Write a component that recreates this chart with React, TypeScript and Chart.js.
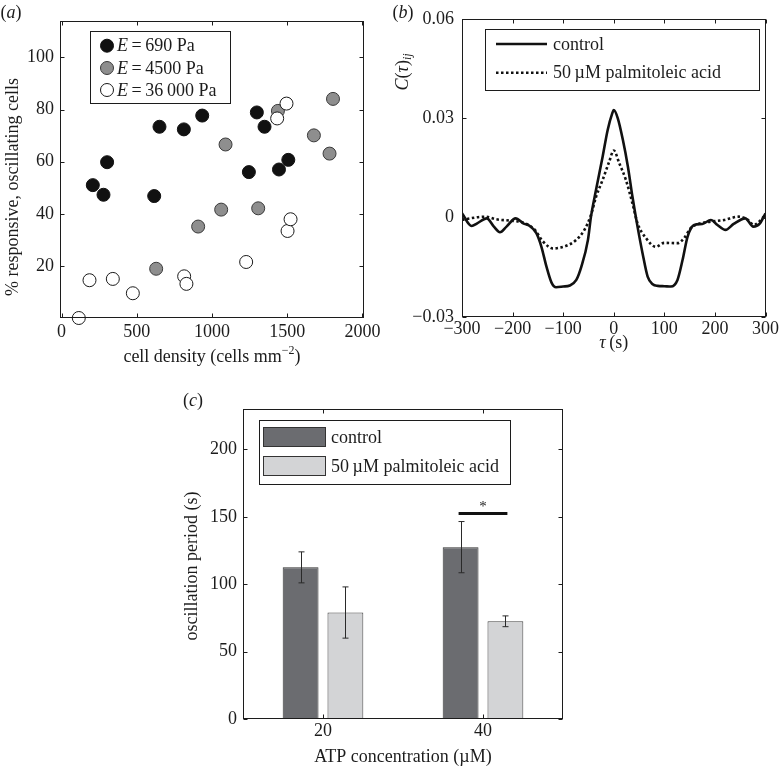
import React, { useEffect, useRef } from 'react';
import { Chart, registerables } from 'chart.js';
Chart.register(...registerables);

const W = 780;
const H = 767;
const SERIF = '"Liberation Serif", "Times New Roman", Times, serif';
const INK = '#1c1c1c';
const FS = 18;

// ---------- Panel (a) data ----------
const xTicksA = [0, 500, 1000, 1500, 2000];
const yTicksA = [20, 40, 60, 80, 100];
const density690 = [208, 279, 303, 616, 651, 813, 935, 1245, 1298, 1349, 1445, 1507];
const pct690 = [51.0, 47.3, 59.8, 46.8, 73.4, 72.4, 77.7, 56.0, 78.9, 73.4, 57.0, 60.7];
const density4500 = [629, 908, 1061, 1090, 1307, 1438, 1677, 1781, 1804];
const pct4500 = [18.9, 35.1, 41.6, 66.6, 42.1, 79.5, 70.1, 63.1, 84.1];
const density36000 = [115, 186, 341, 474, 815, 830, 1227, 1433, 1495, 1502, 1522];
const pct36000 = [0.0, 14.5, 15.0, 9.5, 16.0, 13.1, 21.5, 76.6, 82.3, 33.4, 37.9];
const labelsA = ['690 Pa', '4500 Pa', '36\u2009000 Pa'];

// ---------- Panel (b) data ----------
const xTicksB = [-300, -200, -100, 0, 100, 200, 300];
const yTicksB = [-0.03, 0, 0.03, 0.06];
const controlTau = [-300, -281, -270, -251, -237, -225, -212, -194, -179, -166, -153, -143, -133, -123, -114, -100, -87, -74, -64, -51, -45, -35, -22, -12, -3, 0, 8, 18, 28, 37, 47, 57, 67, 77, 87, 100, 113, 126, 136, 146, 159, 175, 192, 205, 221, 237, 260, 276, 289, 300];
const controlC = [0.0013, -0.0025, -0.0017, -0.0002, -0.0027, -0.0044, -0.0027, -0.0002, -0.0017, -0.0025, -0.0047, -0.0088, -0.0148, -0.0196, -0.021, -0.0208, -0.0205, -0.0188, -0.0148, -0.0067, 0.0003, 0.0084, 0.0184, 0.0265, 0.0315, 0.0325, 0.030, 0.0235, 0.0154, 0.0063, -0.0027, -0.0108, -0.0178, -0.0201, -0.0206, -0.0207, -0.0208, -0.0188, -0.0128, -0.0057, -0.0022, -0.0019, -0.0007, -0.0022, -0.0037, -0.0019, -0.0002, -0.0027, -0.0017, 0.0013];
const palmTau = [-300, -284, -255, -232, -206, -179, -156, -140, -120, -94, -74, -58, -45, -35, -22, -9, 0, 11, 24, 37, 47, 64, 83, 100, 126, 139, 152, 172, 192, 218, 247, 264, 277, 300];
const palmC = [-0.0007, -0.0002, 0.0003, -0.0005, -0.0009, -0.0015, -0.0037, -0.0072, -0.0093, -0.0085, -0.0067, -0.0037, 0.0008, 0.0063, 0.0114, 0.0169, 0.0203, 0.0164, 0.0114, 0.0043, -0.0017, -0.0062, -0.0088, -0.0076, -0.0077, -0.0062, -0.0032, -0.0017, -0.0012, -0.0007, 0.0003, -0.0005, -0.0022, 0.0008];

// ---------- Panel (c) data ----------
const atpCats = ['20', '40'];
const yTicksC = [0, 50, 100, 150, 200];
const controlPeriod = [112.5, 127.5];
const controlErr = [11.5, 19];
const palmPeriod = [79, 72.5];
const palmErr = [19, 4];
const sigCat = 1;
const sigY = 152.5;
const seriesNames = ['control', '50\u2009\u00b5M palmitoleic acid'];

// ---------- helpers ----------
type Seg = { t: string; it?: boolean; sz?: number; dy?: number };
const fnt = (s: Seg, base: number) => `${s.it ? 'italic ' : ''}${s.sz || base}px ${SERIF}`;

function drawRich(ctx: CanvasRenderingContext2D, segs: Seg[], x: number, y: number, align: 'left' | 'center' | 'right' = 'left', base = FS) {
  ctx.save();
  ctx.fillStyle = INK;
  ctx.textBaseline = 'middle';
  ctx.textAlign = 'left';
  const ws = segs.map((s) => { ctx.font = fnt(s, base); return ctx.measureText(s.t).width; });
  const total = ws.reduce((p, c) => p + c, 0);
  let cx = align === 'center' ? x - total / 2 : align === 'right' ? x - total : x;
  segs.forEach((s, i) => {
    ctx.font = fnt(s, base);
    ctx.fillText(s.t, cx, y + (s.dy || 0));
    cx += ws[i];
  });
  ctx.restore();
}

function drawRotated(ctx: CanvasRenderingContext2D, segs: Seg[], x: number, y: number) {
  ctx.save();
  ctx.translate(x, y);
  ctx.rotate(-Math.PI / 2);
  drawRich(ctx, segs, 0, 0, 'center');
  ctx.restore();
}

function drawFrame(chart: any, len = 4) {
  const { ctx, chartArea: a } = chart;
  const xs = chart.scales.x;
  const ys = chart.scales.y;
  const l = Math.round(a.left) + 0.5, r = Math.round(a.right) - 0.5;
  const t = Math.round(a.top) + 0.5, b = Math.round(a.bottom) - 0.5;
  ctx.save();
  ctx.strokeStyle = INK;
  ctx.lineWidth = 1;
  ctx.strokeRect(l, t, r - l, b - t);
  ctx.beginPath();
  xs.ticks.forEach((_: any, i: number) => {
    const p = Math.round(xs.getPixelForTick(i)) + 0.5;
    ctx.moveTo(p, b); ctx.lineTo(p, b - len);
    ctx.moveTo(p, t); ctx.lineTo(p, t + len);
  });
  ys.ticks.forEach((_: any, i: number) => {
    const p = Math.round(ys.getPixelForTick(i)) + 0.5;
    ctx.moveTo(l, p); ctx.lineTo(l + len, p);
    ctx.moveTo(r, p); ctx.lineTo(r - len, p);
  });
  ctx.stroke();
  ctx.restore();
}

function legendBox(ctx: CanvasRenderingContext2D, x: number, y: number, w: number, h: number) {
  ctx.save();
  ctx.fillStyle = '#ffffff';
  ctx.fillRect(x, y, w, h);
  ctx.strokeStyle = INK;
  ctx.lineWidth = 1;
  ctx.strokeRect(Math.round(x) + 0.5, Math.round(y) + 0.5, Math.round(w), Math.round(h));
  ctx.restore();
}

const tickFont = { family: SERIF, size: FS };
const hideGrid = { display: false, drawTicks: false };
const setTicks = (vals: number[]) => (s: any) => { s.ticks = vals.map((v) => ({ value: v })); };
const minus = (v: number) => (v < 0 ? '\u2212' + Math.abs(v) : String(v));

const markerStyles = [
  { fill: '#111111', stroke: '#111111' },
  { fill: '#8e8e8e', stroke: '#3a3a3a' },
  { fill: '#ffffff', stroke: '#1a1a1a' },
];

export default function App() {
  const refA = useRef<HTMLCanvasElement>(null);
  const refB = useRef<HTMLCanvasElement>(null);
  const refC = useRef<HTMLCanvasElement>(null);

  useEffect(() => {
    // ---------------- (a) ----------------
    const pluginA = {
      id: 'decorA',
      afterDatasetsDraw(chart: any) {
        const { ctx, chartArea: a } = chart;
        drawFrame(chart, 4);
        // legend
        legendBox(ctx, a.left + 29.5, a.top + 9.5, 139.5, 71.5);
        const rows = [a.top + 24.7, a.top + 47, a.top + 69];
        rows.forEach((ry, i) => {
          ctx.save();
          ctx.beginPath();
          ctx.arc(a.left + 47, ry, 6.5, 0, Math.PI * 2);
          ctx.fillStyle = markerStyles[i].fill;
          ctx.fill();
          ctx.lineWidth = 1;
          ctx.strokeStyle = markerStyles[i].stroke;
          ctx.stroke();
          ctx.restore();
          drawRich(ctx, [{ t: 'E', it: true }, { t: '\u2009=\u2009' + labelsA[i] }], a.left + 57, ry + 1);
        });
        // titles
        drawRich(ctx, [{ t: 'cell density (cells mm' }, { t: '\u22122', sz: 12, dy: -6 }, { t: ')' }], (a.left + a.right) / 2, a.bottom + 39, 'center');
        drawRotated(ctx, [{ t: '% responsive, oscillating cells' }], 13, 187);
        drawRich(ctx, [{ t: '(' }, { t: 'a', it: true }, { t: ')' }], 11, 13, 'center');
      },
    };
    const mk = (xs: number[], ys: number[]) => xs.map((x, i) => ({ x, y: ys[i] }));
    const dsA = [
      { d: mk(density690, pct690), s: markerStyles[0], order: 2 },
      { d: mk(density4500, pct4500), s: markerStyles[1], order: 1 },
      { d: mk(density36000, pct36000), s: markerStyles[2], order: 0 },
    ].map((o, i) => ({
      label: labelsA[i],
      data: o.d,
      order: o.order,
      pointRadius: 6.5,
      pointBorderWidth: 1,
      backgroundColor: o.s.fill,
      borderColor: o.s.stroke,
      pointBackgroundColor: o.s.fill,
      pointBorderColor: o.s.stroke,
      clip: false as any,
    }));
    const chartA = new Chart(refA.current as HTMLCanvasElement, {
      type: 'scatter',
      data: { datasets: dsA as any },
      options: {
        responsive: false,
        animation: false,
        events: [],
        layout: { padding: { left: 0, top: 21, right: W - 364, bottom: H - 318 - 50 } },
        plugins: { legend: { display: false }, tooltip: { enabled: false } },
        scales: {
          x: {
            type: 'linear', min: -10, max: 2010,
            afterBuildTicks: setTicks(xTicksA),
            afterFit: (s: any) => { s.height = 50; },
            grid: hideGrid, border: { display: false },
            ticks: { font: tickFont, color: INK, padding: 3, maxRotation: 0, callback: (v: any) => String(v) },
          },
          y: {
            type: 'linear', min: 0, max: 114,
            afterBuildTicks: setTicks(yTicksA),
            afterFit: (s: any) => { s.width = 60; },
            grid: hideGrid, border: { display: false },
            ticks: { font: tickFont, color: INK, padding: 6, callback: (v: any) => String(v) },
          },
        },
      },
      plugins: [pluginA],
    });

    // ---------------- (b) ----------------
    const pluginB = {
      id: 'decorB',
      afterDatasetsDraw(chart: any) {
        const { ctx, chartArea: a } = chart;
        drawFrame(chart, 4);
        legendBox(ctx, a.left + 23, a.top + 10, 274, 61);
        const ly = [a.top + 25, a.top + 53.7];
        ctx.save();
        ctx.strokeStyle = '#111';
        ctx.lineWidth = 2.5;
        ctx.beginPath(); ctx.moveTo(a.left + 34, ly[0]); ctx.lineTo(a.left + 85, ly[0]); ctx.stroke();
        ctx.setLineDash([2.5, 2.5]);
        ctx.beginPath(); ctx.moveTo(a.left + 34, ly[1]); ctx.lineTo(a.left + 85, ly[1]); ctx.stroke();
        ctx.restore();
        drawRich(ctx, [{ t: seriesNames[0] }], a.left + 91, ly[0] + 1);
        drawRich(ctx, [{ t: seriesNames[1] }], a.left + 91, ly[1] + 1);
        // titles
        drawRich(ctx, [{ t: '\u03c4', it: true }, { t: '\u2009(s)' }], (a.left + a.right) / 2, a.bottom + 26, 'center');
        drawRotated(ctx, [{ t: 'C', it: true }, { t: '(' }, { t: '\u03c4', it: true }, { t: ')' }, { t: 'ij', it: true, sz: 12, dy: 5 }], 403, 72);
        drawRich(ctx, [{ t: '(' }, { t: 'b', it: true }, { t: ')' }], 403, 13, 'center');
      },
    };
    const chartB = new Chart(refB.current as HTMLCanvasElement, {
      type: 'line',
      data: {
        datasets: [
          {
            label: seriesNames[0],
            data: mk(controlTau, controlC),
            borderColor: '#111', borderWidth: 2.6, pointRadius: 0, fill: false,
            cubicInterpolationMode: 'monotone',
          },
          {
            label: seriesNames[1],
            data: mk(palmTau, palmC),
            borderColor: '#111', borderWidth: 2.6, pointRadius: 0, fill: false,
            borderDash: [2.5, 2.5], cubicInterpolationMode: 'monotone',
          },
        ] as any,
      },
      options: {
        responsive: false,
        animation: false,
        events: [],
        layout: { padding: { left: 462 - 60, top: 19, right: W - 766, bottom: H - 317 - 50 } },
        plugins: { legend: { display: false }, tooltip: { enabled: false } },
        scales: {
          x: {
            type: 'linear', min: -300, max: 300,
            afterBuildTicks: setTicks(xTicksB),
            afterFit: (s: any) => { s.height = 50; },
            grid: hideGrid, border: { display: false },
            ticks: { font: tickFont, color: INK, padding: 1, maxRotation: 0, callback: (v: any) => minus(v) },
          },
          y: {
            type: 'linear', min: -0.03, max: 0.06,
            afterBuildTicks: setTicks(yTicksB),
            afterFit: (s: any) => { s.width = 60; },
            grid: hideGrid, border: { display: false },
            ticks: {
              font: tickFont, color: INK, padding: 8,
              callback: (v: any) => (Math.abs(v) < 1e-9 ? '0' : (v < 0 ? '\u2212' : '') + Math.abs(v).toFixed(2)),
            },
          },
        },
      },
      plugins: [pluginB],
    });

    // ---------------- (c) ----------------
    const pluginC = {
      id: 'decorC',
      afterDatasetsDraw(chart: any) {
        const { ctx, chartArea: a } = chart;
        const ys = chart.scales.y;
        drawFrame(chart, 4);
        // error bars
        const errs = [controlErr, palmErr];
        const vals = [controlPeriod, palmPeriod];
        ctx.save();
        ctx.strokeStyle = '#2a2a2a';
        ctx.lineWidth = 1;
        [0, 1].forEach((di) => {
          const meta = chart.getDatasetMeta(di);
          meta.data.forEach((bar: any, j: number) => {
            const x = Math.round(bar.x) + 0.5;
            const y1 = ys.getPixelForValue(vals[di][j] + errs[di][j]);
            const y2 = ys.getPixelForValue(vals[di][j] - errs[di][j]);
            ctx.beginPath();
            ctx.moveTo(x, y1); ctx.lineTo(x, y2);
            ctx.moveTo(x - 3, y1); ctx.lineTo(x + 3, y1);
            ctx.moveTo(x - 3, y2); ctx.lineTo(x + 3, y2);
            ctx.stroke();
          });
        });
        ctx.restore();
        // significance bar
        const bx1 = chart.getDatasetMeta(0).data[sigCat] as any;
        const bx2 = chart.getDatasetMeta(1).data[sigCat] as any;
        const sy = ys.getPixelForValue(sigY);
        ctx.save();
        ctx.strokeStyle = '#111';
        ctx.lineWidth = 3;
        ctx.beginPath(); ctx.moveTo(bx1.x - 2, sy); ctx.lineTo(bx2.x + 2, sy); ctx.stroke();
        ctx.restore();
        drawRich(ctx, [{ t: '*', sz: 15 }], (bx1.x + bx2.x) / 2, sy - 6, 'center');
        // legend
        legendBox(ctx, a.left + 16, a.top + 11, 251, 64);
        const fills = ['#6b6c70', '#d3d4d6'];
        [0, 1].forEach((i) => {
          const ry = a.top + 18 + i * 29;
          ctx.save();
          ctx.fillStyle = fills[i];
          ctx.fillRect(a.left + 20, ry, 63, 20);
          ctx.strokeStyle = '#333';
          ctx.lineWidth = 1;
          ctx.strokeRect(a.left + 20.5, ry + 0.5, 62, 19);
          ctx.restore();
          drawRich(ctx, [{ t: seriesNames[i] }], a.left + 88, ry + 11);
        });
        // titles
        drawRich(ctx, [{ t: 'ATP concentration (\u00b5M)' }], (a.left + a.right) / 2, a.bottom + 38, 'center');
        drawRotated(ctx, [{ t: 'oscillation period (s)' }], 192, (a.top + a.bottom) / 2 + 2);
        drawRich(ctx, [{ t: '(' }, { t: 'c', it: true }, { t: ')' }], 193, 401, 'center');
      },
    };
    const chartC = new Chart(refC.current as HTMLCanvasElement, {
      type: 'bar',
      data: {
        labels: atpCats,
        datasets: [
          { label: seriesNames[0], data: controlPeriod, backgroundColor: '#6b6c70', borderColor: '#333', borderWidth: 1, categoryPercentage: 0.56, barPercentage: 0.8 },
          { label: seriesNames[1], data: palmPeriod, backgroundColor: '#d3d4d6', borderColor: '#444', borderWidth: 1, categoryPercentage: 0.56, barPercentage: 0.8 },
        ] as any,
      },
      options: {
        responsive: false,
        animation: false,
        events: [],
        layout: { padding: { left: 243 - 62, top: 409, right: W - 563, bottom: H - 719 - 40 } },
        plugins: { legend: { display: false }, tooltip: { enabled: false } },
        scales: {
          x: {
            type: 'category',
            afterFit: (s: any) => { s.height = 40; },
            grid: hideGrid, border: { display: false },
            ticks: { font: tickFont, color: INK, padding: 1, maxRotation: 0 },
          },
          y: {
            type: 'linear', min: 0, max: 230,
            afterBuildTicks: setTicks(yTicksC),
            afterFit: (s: any) => { s.width = 62; },
            grid: hideGrid, border: { display: false },
            ticks: { font: tickFont, color: INK, padding: 6, callback: (v: any) => String(v) },
          },
        },
      },
      plugins: [pluginC],
    });

    return () => {
      chartA.destroy();
      chartB.destroy();
      chartC.destroy();
    };
  }, []);

  const cs: React.CSSProperties = { position: 'absolute', left: 0, top: 0, width: W, height: H };
  return (
    <div style={{ position: 'fixed', left: 0, top: 0, width: W, height: H, background: '#ffffff' }}>
      <canvas ref={refA} width={W} height={H} style={cs} />
      <canvas ref={refB} width={W} height={H} style={cs} />
      <canvas ref={refC} width={W} height={H} style={cs} />
    </div>
  );
}
